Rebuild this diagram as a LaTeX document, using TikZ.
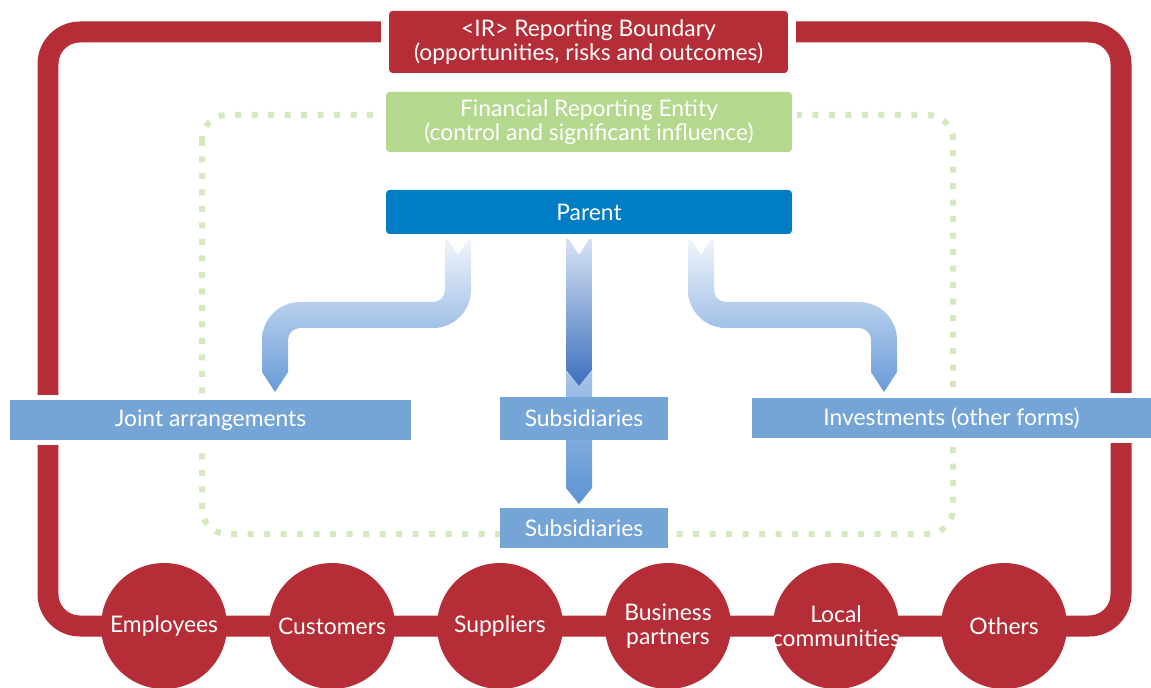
\documentclass[tikz,border=0pt]{standalone}
\usepackage{fontspec}
\setmainfont{Lato}
\usepackage{tikz}

\definecolor{irred}{RGB}{181,45,54}
\definecolor{entgreen}{RGB}{180,216,141}
\definecolor{dotgreen}{RGB}{212,233,189}
\definecolor{parentblue}{RGB}{0,125,195}
\definecolor{boxblue}{RGB}{117,165,214}
\definecolor{arrowpale}{RGB}{244,247,252}
\definecolor{arrowmid}{RGB}{104,155,216}
\definecolor{centretop}{RGB}{218,229,244}
\definecolor{centrebot}{RGB}{60,111,190}
\definecolor{lowertop}{RGB}{168,196,232}
\definecolor{lowerbot}{RGB}{90,147,211}

\begin{document}
\begin{tikzpicture}[x=0.02cm,y=-0.02cm,font=\fontsize{13}{14}\selectfont,
  wide box/.style={rectangle,text=white,inner sep=0pt,align=center,minimum width=8.12cm},
  tier box/.style={rectangle,fill=boxblue,text=white,inner sep=0pt,minimum height=0.8cm},
  stake node/.style={circle,fill=irred,text=white,inner sep=-8pt,minimum size=2.52cm,align=center}]
\tikzstyle{white gap} = [preaction={draw=white,line width=0.2cm}]

\useasboundingbox (0,0) rectangle (1151,688);
\clip (0,0) rectangle (1151,688);

% Boundaries
\draw[irred,line width=0.42cm,rounded corners=0.64cm] (48,32) rectangle (1121,626);
\draw[dotgreen,line width=0.12cm,dash pattern=on 0.12cm off 0.21cm,rounded corners=0.5cm] (202,115) rectangle (953,534);

% Bent arrows
\shade[top color=arrowpale,bottom color=arrowmid]
  (471,235) -- (471,250) [rounded corners=0.76cm] -- (471,328) -- (400,328)
  [rounded corners=0.24cm] -- (288,328) -- (288,355)
  [sharp corners] -- (288,372) -- (275,392) -- (262,372) -- (262,360)
  [rounded corners=0.76cm] -- (262,302) -- (350,302)
  [rounded corners=0.24cm] -- (445,302) -- (445,255)
  [sharp corners] -- (445,235) -- (458,255) -- cycle;
\shade[top color=arrowpale,bottom color=arrowmid]
  (688,235) -- (688,250) [rounded corners=0.76cm] -- (688,328) -- (759,328)
  [rounded corners=0.24cm] -- (871,328) -- (871,355)
  [sharp corners] -- (871,372) -- (884,392) -- (897,372) -- (897,360)
  [rounded corners=0.76cm] -- (897,302) -- (809,302)
  [rounded corners=0.24cm] -- (714,302) -- (714,255)
  [sharp corners] -- (714,235) -- (701,255) -- cycle;

% Straight arrows
\shade[top color=lowertop,bottom color=lowerbot]
  (566,371) -- (579,386) -- (592,371) -- (592,488) -- (579,504) -- (566,488) -- cycle;
\shade[top color=centretop,bottom color=centrebot]
  (566,235) -- (579,255) -- (592,235) -- (592,370) -- (579,386) -- (566,370) -- cycle;

% Entity boxes
\node[wide box,white gap,preaction={draw=white,line width=0.32cm},fill=irred,minimum width=7.98cm,minimum height=1.24cm,rounded corners=2pt] (boundary) at (588.5,42)
  {<IR> Reporting Boundary\\(opportunities, risks and outcomes)};
\node[wide box,white gap,fill=entgreen,minimum height=1.2cm,rounded corners=2pt] (entity) at (589,122)
  {Financial Reporting Entity\\(control and significant influence)};
\node[wide box,white gap,fill=parentblue,minimum height=0.88cm,rounded corners=2pt] (parent) at (589,212) {Parent};

\node[tier box,white gap,minimum width=8.02cm] (joint) at (210.5,420) {Joint arrangements};
\node[tier box,minimum width=3.36cm,minimum height=0.86cm] (subA) at (584,418.5) {Subsidiaries};
\node[tier box,white gap,minimum width=7.98cm] (invest) at (951.5,418) {Investments (other forms)};
\node[tier box,minimum width=3.36cm] (subB) at (584,528) {Subsidiaries};

% Stakeholders
\node[stake node] (employees) at (164,626) {Employees};
\node[stake node] (customers) at (332,626) {Customers};
\node[stake node] (suppliers) at (500,626) {Suppliers};
\node[stake node] (partners) at (668,626) {Business\\partners};
\node[stake node] (communities) at (836,626) {Local\\communities};
\node[stake node] (others) at (1004,626) {Others};

\end{tikzpicture}
\end{document}
